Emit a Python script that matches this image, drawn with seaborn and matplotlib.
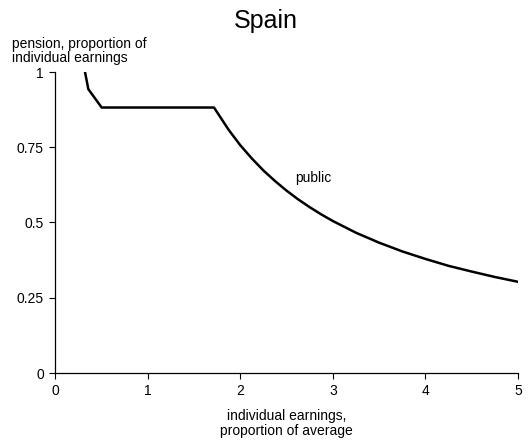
import matplotlib
matplotlib.use("Agg")
import matplotlib.pyplot as plt
import seaborn as sns
import pandas as pd

# data
earnings = [0.324, 0.36, 0.504, 1.0, 1.5, 1.717, 1.875, 2.0, 2.125, 2.25, 2.375, 2.5, 2.625, 2.75,
            2.875, 3.0, 3.25, 3.5, 3.75, 4.0, 4.25, 4.5, 4.75, 5.0]
pension = [1.0, 0.943, 0.882, 0.882, 0.882, 0.882, 0.808, 0.757, 0.713, 0.673, 0.638, 0.606, 0.577, 0.551,
           0.527, 0.505, 0.466, 0.433, 0.404, 0.379, 0.356, 0.337, 0.319, 0.303]
x_ticks = [0, 1, 2, 3, 4, 5]
y_ticks = [0, 0.25, 0.5, 0.75, 1]
y_tick_labels = ["0", "0.25", "0.5", "0.75", "1"]

sns.set_style("white")
plt.rcParams['font.family'] = ['Liberation Sans', 'DejaVu Sans']

df = pd.DataFrame({"earnings": earnings, "pension": pension})

fig = plt.figure(figsize=(5.31, 4.44), dpi=100)
ax = fig.add_axes([55/531, (444-373)/444, (518-55)/531, (373-72)/444])
sns.lineplot(data=df, x="earnings", y="pension", ax=ax, color="black", linewidth=1.8, sort=False)

ax.set_xlim(0, 5)
ax.set_ylim(0, 1)
ax.set_xticks(x_ticks)
ax.set_xticklabels([str(t) for t in x_ticks], fontsize=10)
ax.set_yticks(y_ticks)
ax.set_yticklabels(y_tick_labels, fontsize=10)
ax.tick_params(axis="both", direction="out", length=4, width=0.8, color="black", pad=4,
               labelcolor="black", bottom=True, left=True)
for side in ["top", "right"]:
    ax.spines[side].set_visible(False)
for side in ["left", "bottom"]:
    ax.spines[side].set_color("black")
    ax.spines[side].set_linewidth(0.9)

ax.set_xlabel("individual earnings,\nproportion of average", fontsize=10, labelpad=8,
              linespacing=1.05, color="black")
ax.set_ylabel("")
fig.text(12/531, 1 - 37/444, "pension, proportion of\nindividual earnings", fontsize=10,
         ha="left", va="top", linespacing=1.0, color="black")
fig.text(266/531, 1 - 21/444, "Spain", fontsize=18, ha="center", va="center", color="black")
ax.text(2.59, 0.648, "public", fontsize=10, ha="left", va="center", color="black")

fig.savefig("out.png", dpi=100)
